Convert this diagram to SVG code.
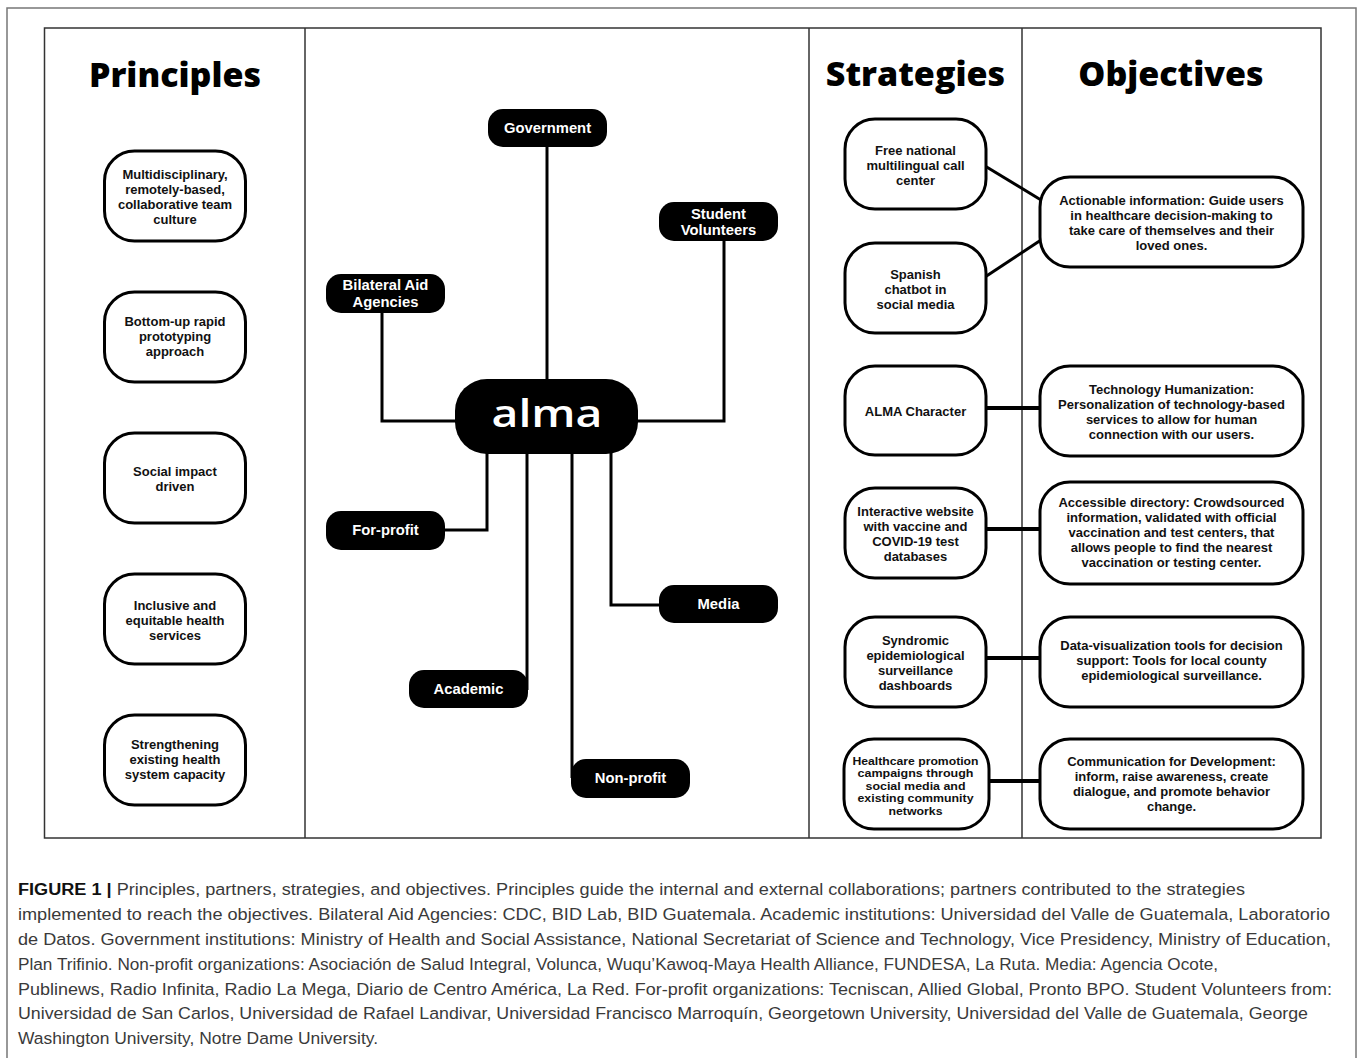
<svg xmlns="http://www.w3.org/2000/svg" width="1358" height="1058" viewBox="0 0 1358 1058">
<style>
.frame{fill:none;stroke:#333;stroke-width:1.5}
.outer{fill:none;stroke:#777;stroke-width:1.5}
.title{font-family:"Open Sans","Liberation Sans",sans-serif;font-weight:800;font-size:34px;fill:#000;text-anchor:middle}
.box{fill:#fff;stroke:#000;stroke-width:3}
.pill{fill:#000}
.bt{font-family:"Liberation Sans",Arial,sans-serif;font-weight:700;font-size:13px;fill:#111;text-anchor:middle}
.bts{font-family:"Liberation Sans",Arial,sans-serif;font-weight:700;font-size:11px;fill:#111;text-anchor:middle}
.pt{font-family:"Liberation Sans",Arial,sans-serif;font-weight:700;font-size:14.8px;fill:#fff;text-anchor:middle}
.alma{font-family:"Open Sans","Liberation Sans",sans-serif;font-weight:600;font-size:37px;fill:#fff;text-anchor:middle}
.conn{fill:none;stroke:#000;stroke-width:3}
.conn2{fill:none;stroke:#000;stroke-width:4}
.cap{font-family:"Liberation Sans",Arial,sans-serif;font-size:17.4px;fill:#3a3a3a}
.capb{font-weight:700;fill:#111}
</style>
<rect x="0" y="0" width="1358" height="1058" fill="#fff"/>
<rect class="outer" x="7" y="8" width="1349" height="1070"/>
<g id="frame">
<rect class="frame" x="44.5" y="28" width="1276.5" height="810"/>
<line class="frame" x1="305" y1="28" x2="305" y2="838"/>
<line class="frame" x1="809" y1="28" x2="809" y2="838"/>
<line class="frame" x1="1022" y1="28" x2="1022" y2="838"/>
</g>
<g id="titles">
<text class="title" x="175" y="87">Principles</text>
<text class="title" x="915.5" y="86">Strategies</text>
<text class="title" x="1171" y="86">Objectives</text>
</g>
<g id="connectors">
<path class="conn" d="M547,147 V380"/>
<path class="conn" d="M382,313 V421 H456"/>
<path class="conn" d="M724,241 V421 H637"/>
<path class="conn" d="M487,453 V530 H444"/>
<path class="conn" d="M527,453 V690"/>
<path class="conn" d="M572,453 V778"/>
<path class="conn" d="M611,453 V605 H660"/>
<path class="conn" d="M985,166 L1041,200"/>
<path class="conn" d="M985,277 L1041,240"/>
<path class="conn2" d="M985,408 H1041"/>
<path class="conn2" d="M985,529 H1041"/>
<path class="conn2" d="M985,658 H1041"/>
<path class="conn2" d="M988,781 H1041"/>
</g>
<g id="principle-1"><rect class="box" x="104.5" y="151" width="141" height="90" rx="30"/>
<text class="bt" x="175" y="178.5">Multidisciplinary,</text><text class="bt" x="175" y="193.5">remotely-based,</text><text class="bt" x="175" y="208.5">collaborative team</text><text class="bt" x="175" y="223.5">culture</text></g>
<g id="principle-2"><rect class="box" x="104.5" y="292" width="141" height="90" rx="30"/>
<text class="bt" x="175" y="326">Bottom-up rapid</text><text class="bt" x="175" y="341">prototyping</text><text class="bt" x="175" y="356">approach</text></g>
<g id="principle-3"><rect class="box" x="104.5" y="433" width="141" height="90" rx="30"/>
<text class="bt" x="175" y="476">Social impact</text><text class="bt" x="175" y="491">driven</text></g>
<g id="principle-4"><rect class="box" x="104.5" y="574" width="141" height="90" rx="30"/>
<text class="bt" x="175" y="609.5">Inclusive and</text><text class="bt" x="175" y="624.5">equitable health</text><text class="bt" x="175" y="639.5">services</text></g>
<g id="principle-5"><rect class="box" x="104.5" y="715" width="141" height="90" rx="30"/>
<text class="bt" x="175" y="748.5">Strengthening</text><text class="bt" x="175" y="763.5">existing health</text><text class="bt" x="175" y="778.5">system capacity</text></g>
<g id="alma"><rect class="pill" x="455" y="379" width="183" height="75" rx="32"/>
<text class="alma" x="547" y="427" textLength="111" lengthAdjust="spacingAndGlyphs">alma</text></g>
<g id="government"><rect class="pill" x="488" y="109" width="119" height="38" rx="15"/>
<text class="pt" x="547.5" y="133">Government</text></g>
<g id="student-volunteers"><rect class="pill" x="659" y="202" width="119" height="39" rx="15"/>
<text class="pt" x="718.5" y="218.5">Student</text><text class="pt" x="718.5" y="235">Volunteers</text></g>
<g id="bilateral-aid"><rect class="pill" x="326" y="274" width="119" height="39" rx="15"/>
<text class="pt" x="385.5" y="290">Bilateral Aid</text><text class="pt" x="385.5" y="306.5">Agencies</text></g>
<g id="for-profit"><rect class="pill" x="326" y="511" width="119" height="39" rx="15"/>
<text class="pt" x="385.5" y="535">For-profit</text></g>
<g id="media"><rect class="pill" x="659" y="585" width="119" height="38" rx="15"/>
<text class="pt" x="718.5" y="609">Media</text></g>
<g id="academic"><rect class="pill" x="409" y="670" width="119" height="38" rx="15"/>
<text class="pt" x="468.5" y="694">Academic</text></g>
<g id="non-profit"><rect class="pill" x="571" y="759" width="119" height="39" rx="15"/>
<text class="pt" x="630.5" y="783">Non-profit</text></g>
<g id="strategy-1"><rect class="box" x="845" y="119" width="141" height="90" rx="30"/>
<text class="bt" x="915.5" y="154.5">Free national</text><text class="bt" x="915.5" y="169.5">multilingual call</text><text class="bt" x="915.5" y="184.5">center</text></g>
<g id="strategy-2"><rect class="box" x="845" y="243" width="141" height="90" rx="30"/>
<text class="bt" x="915.5" y="278.5">Spanish</text><text class="bt" x="915.5" y="293.5">chatbot in</text><text class="bt" x="915.5" y="308.5">social media</text></g>
<g id="strategy-3"><rect class="box" x="845" y="366" width="141" height="89" rx="30"/>
<text class="bt" x="915.5" y="416">ALMA Character</text></g>
<g id="strategy-4"><rect class="box" x="845" y="488" width="141" height="90" rx="30"/>
<text class="bt" x="915.5" y="516">Interactive website</text><text class="bt" x="915.5" y="531">with vaccine and</text><text class="bt" x="915.5" y="546">COVID-19 test</text><text class="bt" x="915.5" y="561">databases</text></g>
<g id="strategy-5"><rect class="box" x="845" y="617" width="141" height="90" rx="30"/>
<text class="bt" x="915.5" y="644.5">Syndromic</text><text class="bt" x="915.5" y="659.5">epidemiological</text><text class="bt" x="915.5" y="674.5">surveillance</text><text class="bt" x="915.5" y="689.5">dashboards</text></g>
<g id="strategy-6"><rect class="box" x="844" y="739" width="145" height="90" rx="30"/>
<text class="bts" x="915.5" y="764.5" textLength="126" lengthAdjust="spacingAndGlyphs">Healthcare promotion</text><text class="bts" x="915.5" y="777" textLength="116" lengthAdjust="spacingAndGlyphs">campaigns through</text><text class="bts" x="915.5" y="789.5" textLength="100" lengthAdjust="spacingAndGlyphs">social media and</text><text class="bts" x="915.5" y="802" textLength="116" lengthAdjust="spacingAndGlyphs">existing community</text><text class="bts" x="915.5" y="814.5" textLength="54" lengthAdjust="spacingAndGlyphs">networks</text></g>
<g id="objective-1"><rect class="box" x="1040" y="177" width="263" height="90" rx="30"/>
<text class="bt" x="1171.5" y="204.5">Actionable information: Guide users</text><text class="bt" x="1171.5" y="219.5">in healthcare decision-making to</text><text class="bt" x="1171.5" y="234.5">take care of themselves and their</text><text class="bt" x="1171.5" y="249.5">loved ones.</text></g>
<g id="objective-2"><rect class="box" x="1040" y="366" width="263" height="90" rx="30"/>
<text class="bt" x="1171.5" y="393.5">Technology Humanization:</text><text class="bt" x="1171.5" y="408.5">Personalization of technology-based</text><text class="bt" x="1171.5" y="423.5">services to allow for human</text><text class="bt" x="1171.5" y="438.5">connection with our users.</text></g>
<g id="objective-3"><rect class="box" x="1040" y="482" width="263" height="102" rx="30"/>
<text class="bt" x="1171.5" y="507">Accessible directory: Crowdsourced</text><text class="bt" x="1171.5" y="522">information, validated with official</text><text class="bt" x="1171.5" y="537">vaccination and test centers, that</text><text class="bt" x="1171.5" y="552">allows people to find the nearest</text><text class="bt" x="1171.5" y="567">vaccination or testing center.</text></g>
<g id="objective-4"><rect class="box" x="1040" y="617" width="263" height="90" rx="30"/>
<text class="bt" x="1171.5" y="650">Data-visualization tools for decision</text><text class="bt" x="1171.5" y="665">support: Tools for local county</text><text class="bt" x="1171.5" y="680">epidemiological surveillance.</text></g>
<g id="objective-5"><rect class="box" x="1040" y="739" width="263" height="90" rx="30"/>
<text class="bt" x="1171.5" y="766">Communication for Development:</text><text class="bt" x="1171.5" y="781">inform, raise awareness, create</text><text class="bt" x="1171.5" y="796">dialogue, and promote behavior</text><text class="bt" x="1171.5" y="811">change.</text></g>
<g id="caption">
<text class="cap" x="18" y="895" textLength="1227" lengthAdjust="spacingAndGlyphs"><tspan class="capb">FIGURE 1 |</tspan> Principles, partners, strategies, and objectives. Principles guide the internal and external collaborations; partners contributed to the strategies</text>
<text class="cap" x="18" y="920" textLength="1312" lengthAdjust="spacingAndGlyphs">implemented to reach the objectives. Bilateral Aid Agencies: CDC, BID Lab, BID Guatemala. Academic institutions: Universidad del Valle de Guatemala, Laboratorio</text>
<text class="cap" x="18" y="945" textLength="1313" lengthAdjust="spacingAndGlyphs">de Datos. Government institutions: Ministry of Health and Social Assistance, National Secretariat of Science and Technology, Vice Presidency, Ministry of Education,</text>
<text class="cap" x="18" y="970" textLength="1200" lengthAdjust="spacingAndGlyphs">Plan Trifinio. Non-profit organizations: Asociación de Salud Integral, Volunca, Wuqu’Kawoq-Maya Health Alliance, FUNDESA, La Ruta. Media: Agencia Ocote,</text>
<text class="cap" x="18" y="994.5" textLength="1314" lengthAdjust="spacingAndGlyphs">Publinews, Radio Infinita, Radio La Mega, Diario de Centro América, La Red. For-profit organizations: Tecniscan, Allied Global, Pronto BPO. Student Volunteers from:</text>
<text class="cap" x="18" y="1019" textLength="1290" lengthAdjust="spacingAndGlyphs">Universidad de San Carlos, Universidad de Rafael Landivar, Universidad Francisco Marroquín, Georgetown University, Universidad del Valle de Guatemala, George</text>
<text class="cap" x="18" y="1044" textLength="360" lengthAdjust="spacingAndGlyphs">Washington University, Notre Dame University.</text>
</g>
</svg>
